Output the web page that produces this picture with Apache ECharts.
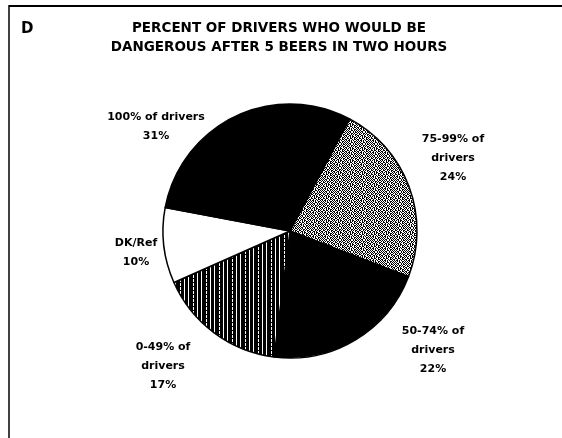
<!DOCTYPE html>
<html>
<head>
<meta charset="utf-8">
<script src="https://cdn.jsdelivr.net/npm/echarts@6/dist/echarts.min.js"></script>
<style>
html,body{margin:0;padding:0;background:#fff;}
#chart{width:562px;height:438px;}
</style>
</head>
<body>
<div id="chart"></div>
<script>
// ---- data ----
var categories = ['75-99% of\ndrivers', '50-74% of\ndrivers', '0-49% of\ndrivers', 'DK/Ref', '100% of drivers'];
var percents = [24, 22, 17, 10, 31];
var titleLines = ['PERCENT OF DRIVERS WHO WOULD BE', 'DANGEROUS AFTER 5 BEERS IN TWO HOURS'];
var panelLetter = 'D';

// ---- layout / style ----
var CX = 290, CY = 231, R = 127;
var labelOffsets = [[163, -73], [143, 119], [-127, 135], [-154, 22], [-134, -104]];

function makePattern(rows, scale) {
  var h = rows.length, w = rows[0].length;
  var c = document.createElement('canvas');
  c.width = w * scale; c.height = h * scale;
  var ctx = c.getContext('2d');
  ctx.fillStyle = '#fff';
  ctx.fillRect(0, 0, c.width, c.height);
  ctx.fillStyle = '#000';
  for (var y = 0; y < h; y++) for (var x = 0; x < w; x++) {
    if (rows[y][x] === 'X') ctx.fillRect(x * scale, y * scale, scale, scale);
  }
  return c;
}
var stipple = makePattern([
  'X.X..X.XX.X.',
  '.X.XX.X..X.X',
  'X..X.X.XX..X',
  '.XX.X..X.XX.',
  'X.X.XX..X.X.',
  '..X.X.XX.X.X',
  'X.XX..X.X..X',
  '.X..X.XX.XX.',
  'XX.X.X..X.X.',
  '.X.X..XX.X.X',
  'X..XX.X.X.X.',
  '.XX..X.X.X.X'
], 1);
var stripes = makePattern([
  'XX.XXX.XXXX.X',
  'XX.XXX.XXXX.X',
  'XX.XXX.XXXXXX',
  'XX.XXX.XXXX.X'
], 1);

var fills = [
  {image: stipple, repeat: 'repeat'},
  '#000',
  {image: stripes, repeat: 'repeat'},
  '#fff',
  '#000'
];

var data = categories.map(function (c, i) {
  return {name: c, value: percents[i], itemStyle: {color: fills[i]}};
});

var chart = echarts.init(document.getElementById('chart'), null, {renderer: 'canvas'});
chart.setOption({
  backgroundColor: '#fff',
  animation: false,
  title: {
    text: titleLines.join('\n'),
    left: 274,
    top: 14,
    textAlign: 'center',
    textStyle: {fontFamily: 'DejaVu Sans', fontWeight: 'bold', fontSize: 13.5, lineHeight: 19, color: '#000'}
  },
  graphic: [
    {type: 'line', shape: {x1: 9, y1: 6, x2: 562, y2: 6}, style: {stroke: '#000', lineWidth: 2}},
    {type: 'line', shape: {x1: 9, y1: 5, x2: 9, y2: 438}, style: {stroke: '#000', lineWidth: 1.5}},
    {type: 'text', left: 21, top: 22, style: {text: panelLetter, font: 'bold 15px "DejaVu Sans"', fill: '#000'}}
  ],
  series: [{
    type: 'pie',
    center: [CX, CY],
    radius: [0, R],
    startAngle: 62,
    clockwise: true,
    data: data,
    itemStyle: {borderColor: '#000', borderWidth: 1.5},
    label: {
      show: true,
      position: 'outside',
      formatter: function (p) { return p.name + '\n' + p.value + '%'; },
      fontFamily: 'DejaVu Sans',
      fontWeight: 'bold',
      fontSize: 11,
      lineHeight: 19,
      color: '#000',
      align: 'center'
    },
    labelLine: {show: false},
    labelLayout: function (p) {
      var o = labelOffsets[p.dataIndex];
      return {x: CX + o[0], y: CY + o[1], align: 'center', verticalAlign: 'middle'};
    },
    emphasis: {disabled: true}
  }]
});
</script>
</body>
</html>
